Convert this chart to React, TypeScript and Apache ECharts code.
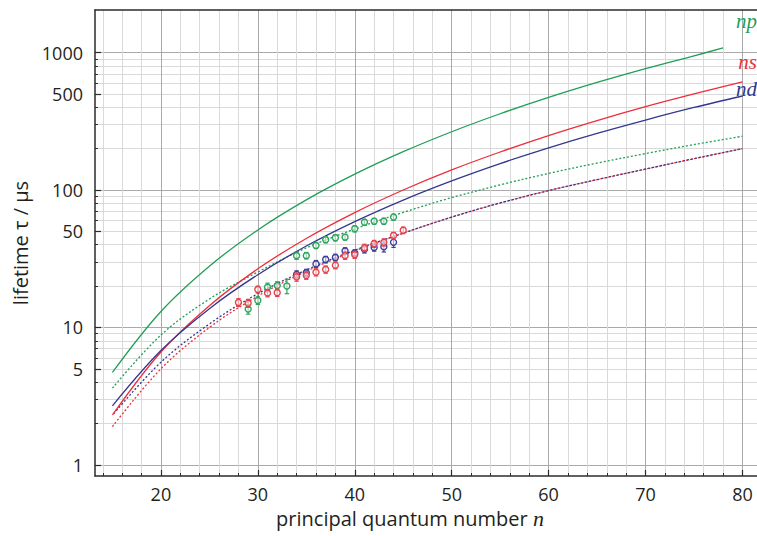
import React, { useEffect, useRef } from "react";
import * as echarts from "echarts";

// ---- data ----
const nCurve = [15, 20, 25, 30, 35, 40, 45, 50, 55, 60, 65, 70, 75, 80];
const nCurveNp = [15, 20, 25, 30, 35, 40, 45, 50, 55, 60, 65, 70, 75, 78];
const npSolid = [4.71, 13.06, 27.9, 51.2, 84.7, 130.3, 190, 265.4, 358.7, 471.6, 606, 764, 947, 1080];
const nsSolid = [2.31, 6.63, 14.4, 26.7, 44.4, 68.5, 100, 140, 189, 249, 320, 404, 500, 612];
const ndSolid = [2.69, 6.79, 13.7, 24.2, 39.1, 58.9, 84.5, 116.5, 155.7, 202.8, 258.4, 323, 398.5, 483];
const npBBR = [3.62, 8.8, 16.1, 25.3, 37.9, 52, 68.7, 88, 109, 132, 157, 184, 214, 246];
const nsBBR = [1.9, 5.0, 10.0, 16.9, 25.6, 36, 48.5, 63.5, 80.5, 99, 119, 142, 169, 200];
const ndBBR = [2.3, 5.58, 10.6, 17.6, 26.2, 36.5, 48.5, 63.5, 80.5, 99, 119, 142, 169, 200];

const npN = [29, 30, 31, 32, 33, 34, 35, 36, 37, 38, 39, 40, 41, 42, 43, 44];
const npTau = [13.6, 15.7, 19.6, 20.2, 20.0, 33.3, 33.3, 39.5, 43.5, 44.9, 45.4, 52.2, 58.3, 59.3, 59.3, 63.5];
const npErr = [1.1, 1.0, 1.4, 1.3, 2.4, 2.0, 1.8, 2.0, 2.2, 2.3, 2.2, 2.6, 2.9, 2.9, 3.0, 3.2];

const nsN = [28, 29, 30, 31, 32, 34, 35, 36, 37, 38, 39, 40, 41, 42, 43, 44, 45];
const nsTau = [15.2, 15.0, 18.9, 17.8, 17.9, 23.3, 23.9, 25.2, 26.4, 28.3, 33.3, 33.8, 38.0, 40.6, 41.6, 46.6, 50.9];
const nsErr = [1.0, 1.0, 1.1, 1.1, 1.1, 1.6, 1.5, 1.5, 1.6, 1.6, 2.0, 2.0, 2.3, 2.4, 2.5, 2.6, 2.8];

const ndN = [34, 35, 36, 37, 38, 39, 40, 41, 42, 43, 44];
const ndTau = [24.3, 25.0, 29.0, 31.2, 32.3, 36.0, 34.8, 37.0, 38.2, 38.6, 41.6];
const ndErr = [1.5, 1.5, 1.7, 1.7, 1.8, 2.0, 1.9, 2.2, 2.3, 3.2, 3.4];

const xRange = [13.2, 81.5];
const tauRange = [0.83, 2040];
const xMinorTicks = [14, 16, 18, 20, 22, 24, 26, 28, 30, 32, 34, 36, 38, 40, 42, 44, 46, 48, 50, 52, 54, 56, 58, 60, 62, 64, 66, 68, 70, 72, 74, 76, 78, 80];
const xMajorTicks = [20, 30, 40, 50, 60, 70, 80];
const yDecades = [1, 10, 100, 1000];
const yMultipliers = [1, 2, 3, 4, 5, 6, 7, 8, 9];
const yLabelValues = [1, 5, 10, 50, 100, 500, 1000];

const GREEN = "#1f9f57";
const RED = "#ec2f3b";
const BLUE = "#35378f";
const GREEN_PT = "#2ba55c";
const RED_PT = "#e8414b";
const BLUE_PT = "#3c3f98";
const FONT = "Open Sans";

const lg = (v: number) => Math.log10(v);

export default function App() {
  const ref = useRef<HTMLDivElement>(null);

  useEffect(() => {
    if (!ref.current) return;
    const chart = echarts.init(ref.current, undefined, { renderer: "svg" });

    const yMinor: number[] = [];
    yDecades.forEach((d) => yMultipliers.forEach((m) => {
      if (d * m <= 1000) yMinor.push(lg(d * m));
    }));
    const yMin = lg(tauRange[0]);
    const yMax = lg(tauRange[1]);

    const line = (name: string, ns: number[], vals: number[], color: string, dotted: boolean, offset = 0) => ({
      type: "line",
      name,
      xAxisIndex: 0,
      yAxisIndex: 0,
      data: ns.map((n, i) => [n, lg(vals[i])]),
      showSymbol: false,
      symbol: "none",
      smooth: 0.35,
      z: 3,
      lineStyle: {
        color,
        width: 1.3,
        type: dotted ? [2, 2] : "solid",
        dashOffset: offset,
      },
    });

    const points = (name: string, ns: number[], taus: number[], errs: number[], color: string) => ({
      type: "custom",
      name,
      xAxisIndex: 0,
      yAxisIndex: 0,
      z: 5,
      encode: { x: 0, y: 1 },
      data: ns.map((n, i) => [n, lg(taus[i]), lg(taus[i] - errs[i]), lg(taus[i] + errs[i])]),
      renderItem: (_params: any, api: any) => {
        const x = api.value(0);
        const c = api.coord([x, api.value(1)]);
        const lo = api.coord([x, api.value(2)]);
        const hi = api.coord([x, api.value(3)]);
        const cap = 2.2;
        const st = { stroke: color, lineWidth: 1.2 };
        return {
          type: "group",
          children: [
            { type: "line", shape: { x1: lo[0], y1: lo[1], x2: hi[0], y2: hi[1] }, style: st },
            { type: "line", shape: { x1: lo[0] - cap, y1: lo[1], x2: lo[0] + cap, y2: lo[1] }, style: st },
            { type: "line", shape: { x1: hi[0] - cap, y1: hi[1], x2: hi[0] + cap, y2: hi[1] }, style: st },
            { type: "circle", shape: { cx: c[0], cy: c[1], r: 3 }, style: { fill: "rgba(255,255,255,0.55)", stroke: color, lineWidth: 1.4 } },
          ],
        };
      },
    });

    const option: any = {
      animation: false,
      backgroundColor: "#ffffff",
      grid: { left: 95, right: 0, top: 10, bottom: 60, containLabel: false },
      xAxis: [
        {
          type: "value",
          position: "bottom",
          min: xRange[0],
          max: xRange[1],
          axisLine: { show: true, onZero: false, lineStyle: { color: "#2b2b2b", width: 1.5 } },
          axisTick: { show: true, inside: true, length: 3, customValues: xMinorTicks, lineStyle: { color: "#2b2b2b", width: 1 } },
          axisLabel: { show: true, customValues: xMajorTicks, margin: 9, fontSize: 18, fontFamily: FONT, color: "#231f20" },
          splitLine: { show: true, lineStyle: { color: "#d9d9d9", width: 1 } },
          name: "principal quantum number {i|n}",
          nameLocation: "middle",
          nameGap: 31,
          nameTextStyle: {
            fontSize: 20,
            fontFamily: FONT,
            color: "#231f20",
            padding: [0, 32, 0, 0],
            rich: { i: { fontStyle: "italic", fontFamily: "Liberation Serif", fontSize: 22, color: "#231f20" } },
          },
        },
        {
          type: "value",
          position: "bottom",
          min: xRange[0],
          max: xRange[1],
          axisLine: { show: false, onZero: false },
          axisTick: { show: true, inside: true, length: 6, customValues: xMajorTicks, lineStyle: { color: "#2b2b2b", width: 1.2 } },
          axisLabel: { show: false },
          splitLine: { show: true, lineStyle: { color: "#a9a9a9", width: 1 } },
        },
        {
          type: "value",
          position: "top",
          min: xRange[0],
          max: xRange[1],
          axisLine: { show: true, onZero: false, lineStyle: { color: "#2b2b2b", width: 1.5 } },
          axisTick: { show: false },
          axisLabel: { show: false },
          splitLine: { show: false },
        },
      ],
      yAxis: [
        {
          type: "value",
          position: "left",
          min: yMin,
          max: yMax,
          axisLine: { show: true, onZero: false, lineStyle: { color: "#2b2b2b", width: 1.5 } },
          axisTick: { show: true, inside: true, length: 3, customValues: yMinor, lineStyle: { color: "#2b2b2b", width: 1 } },
          axisLabel: {
            show: true,
            customValues: yLabelValues.map(lg),
            margin: 12,
            fontSize: 18,
            fontFamily: FONT,
            color: "#231f20",
            formatter: (v: number) => String(Math.round(Math.pow(10, v))),
          },
          splitLine: { show: true, lineStyle: { color: "#d9d9d9", width: 1 } },
          name: "lifetime τ / μs",
          nameLocation: "middle",
          nameGap: 63,
          nameTextStyle: { fontSize: 20, fontFamily: FONT, color: "#231f20" },
        },
        {
          type: "value",
          position: "left",
          min: yMin,
          max: yMax,
          axisLine: { show: false, onZero: false },
          axisTick: { show: true, inside: true, length: 6, customValues: yLabelValues.map(lg), lineStyle: { color: "#2b2b2b", width: 1.2 } },
          axisLabel: { show: false },
          splitLine: { show: false },
        },
        {
          type: "value",
          position: "left",
          min: yMin,
          max: yMax,
          axisLine: { show: false, onZero: false },
          axisTick: { show: false, customValues: yDecades.map(lg) },
          axisLabel: { show: false },
          splitLine: { show: true, lineStyle: { color: "#a9a9a9", width: 1 } },
        },
      ],
      series: [
        line("ns 300K", nCurve, nsBBR, RED, true, 0),
        line("nd 300K", nCurve, ndBBR, BLUE, true, 2),
        line("np 300K", nCurve, npBBR, GREEN, true, 0),
        line("np 0K", nCurveNp, npSolid, GREEN, false),
        line("ns 0K", nCurve, nsSolid, RED, false),
        line("nd 0K", nCurve, ndSolid, BLUE, false),
        points("np data", npN, npTau, npErr, GREEN_PT),
        points("nd data", ndN, ndTau, ndErr, BLUE_PT),
        points("ns data", nsN, nsTau, nsErr, RED_PT),
      ],
      graphic: [
        { type: "text", x: 757, y: 21, z: 10, style: { text: "np", font: 'italic 21px "Liberation Serif"', fill: GREEN, align: "right", verticalAlign: "middle" } },
        { type: "text", x: 757, y: 62, z: 10, style: { text: "ns", font: 'italic 21px "Liberation Serif"', fill: RED, align: "right", verticalAlign: "middle" } },
        { type: "text", x: 757, y: 89, z: 10, style: { text: "nd", font: 'italic 21px "Liberation Serif"', fill: BLUE, align: "right", verticalAlign: "middle" } },
      ],
    };

    chart.setOption(option);
    return () => chart.dispose();
  }, []);

  return (
    <div
      ref={ref}
      style={{ position: "fixed", left: 0, top: 0, width: 757, height: 536, background: "#fff" }}
    />
  );
}
